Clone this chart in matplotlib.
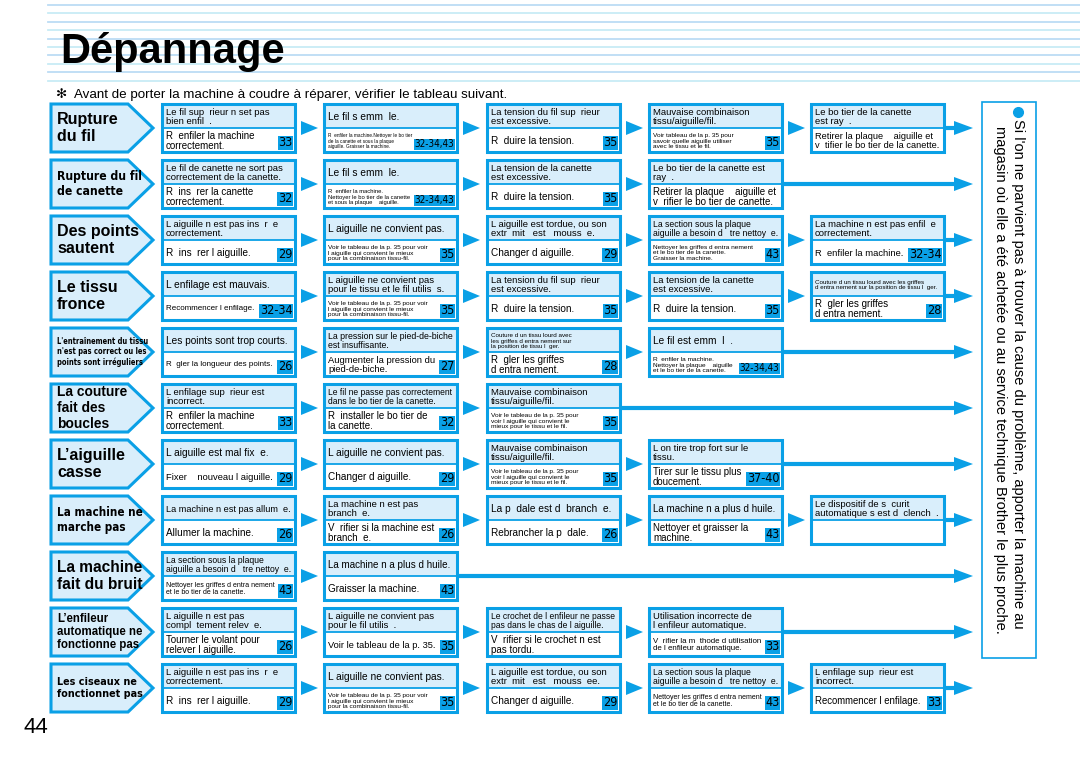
import matplotlib
matplotlib.use("Agg")
import matplotlib.pyplot as plt
from matplotlib.patches import Rectangle, Polygon
from matplotlib import font_manager
from matplotlib.font_manager import FontProperties

# Texts of the page
title = "Dépannage"
intro = "✻  Avant de porter la machine à coudre à réparer, vérifier le tableau suivant."
note_line1 = "Si l'on ne parvient pas à trouver la cause du problème, apporter la machine au"
note_line2 = "magasin où elle a été achetée ou au service technique Brother le plus proche."
page_number = "44"

problems = [
    "Rupture\ndu fil",
    "Rupture du fil\nde canette",
    "Des points\nsautent",
    "Le tissu\nfronce",
    "L'entraînement du tissu\nn'est pas correct ou les\npoints sont irréguliers",
    "La couture\nfait des\nboucles",
    "L’aiguille\ncasse",
    "La machine ne\nmarche pas",
    "La machine\nfait du bruit",
    "L’enfileur\nautomatique ne\nfonctionne pas",
    "Les ciseaux ne\nfonctionnet pas",
]

causes = [
    ["Le fil sup  rieur n set pas\nbien enfil  .", "Le fil s emm  le.",
     "La tension du fil sup  rieur\nest excessive.", "Mauvaise combinaison\ntissu/aiguille/fil.",
     "Le bo tier de la canette\nest ray  ."],
    ["Le fil de canette ne sort pas\ncorrectement de la canette.", "Le fil s emm  le.",
     "La tension de la canette\nest excessive.", "Le bo tier de la canette est\nray  ."],
    ["L aiguille n est pas ins  r  e\ncorrectement.", "L aiguille ne convient pas.",
     "L aiguille est tordue, ou son\nextr  mit   est   mouss  e.",
     "La section sous la plaque\naiguille a besoin d   tre nettoy  e.",
     "La machine n est pas enfil  e\ncorrectement."],
    ["L enfilage est mauvais.", "L aiguille ne convient pas\npour le tissu et le fil utilis  s.",
     "La tension du fil sup  rieur\nest excessive.", "La tension de la canette\nest excessive.",
     "Couture d un tissu lourd avec les griffes\nd entra nement sur la position de tissu l  ger."],
    ["Les points sont trop courts.", "La pression sur le pied-de-biche\nest insuffisante.",
     "Couture d un tissu lourd avec\nles griffes d entra nement sur\nla position de tissu l  ger.",
     "Le fil est emm  l  ."],
    ["L enfilage sup  rieur est\nincorrect.", "Le fil ne passe pas correctement\ndans le bo tier de la canette.",
     "Mauvaise combinaison\ntissu/aiguille/fil."],
    ["L aiguille est mal fix  e.", "L aiguille ne convient pas.",
     "Mauvaise combinaison\ntissu/aiguille/fil.", "L on tire trop fort sur le\ntissu."],
    ["La machine n est pas allum  e.", "La machine n est pas\nbranch  e.",
     "La p  dale est d  branch  e.", "La machine n a plus d huile.",
     "Le dispositif de s  curit  \nautomatique s est d  clench  ."],
    ["La section sous la plaque\naiguille a besoin d   tre nettoy  e.", "La machine n a plus d huile."],
    ["L aiguille n est pas\ncompl  tement relev  e.", "L aiguille ne convient pas\npour le fil utilis  .",
     "Le crochet de l enfileur ne passe\npas dans le chas de l aiguille.",
     "Utilisation incorrecte de\nl enfileur automatique."],
    ["L aiguille n est pas ins  r  e\ncorrectement.", "L aiguille ne convient pas.",
     "L aiguille est tordue, ou son\nextr  mit   est   mouss  ee.",
     "La section sous la plaque\naiguille a besoin d   tre nettoy  e.",
     "L enfilage sup  rieur est\nincorrect."],
]

remedies = [
    ["R  enfiler la machine\ncorrectement.",
     "R  enfiler la machine.Nettoyer le bo tier\nde la canette et sous la plaque\naiguille. Graisser la machine.",
     "R  duire la tension.",
     "Voir tableau de la p. 35 pour\nsavoir quelle aiguille utiliser\navec le tissu et le fil.",
     "Retirer la plaque    aiguille et\nv  tifier le bo tier de la canette."],
    ["R  ins  rer la canette\ncorrectement.",
     "R  enfiler la machine.\nNettoyer le bo tier de la canette\net sous la plaque    aiguille.",
     "R  duire la tension.",
     "Retirer la plaque    aiguille et\nv  rifier le bo tier de canette."],
    ["R  ins  rer l aiguille.",
     "Voir le tableau de la p. 35 pour voir\nl aiguille qui convient le mieux\npour la combinaison tissu-fil.",
     "Changer d aiguille.",
     "Nettoyer les griffes d entra nement\net le bo tier de la canette.\nGraisser la machine.",
     "R  enfiler la machine."],
    ["Recommencer l enfilage.",
     "Voir le tableau de la p. 35 pour voir\nl aiguille qui convient le mieux\npour la combinaison tissu-fil.",
     "R  duire la tension.", "R  duire la tension.", "R  gler les griffes\nd entra nement."],
    ["R  gler la longueur des points.", "Augmenter la pression du\npied-de-biche.",
     "R  gler les griffes\nd entra nement.",
     "R  enfiler la machine.\nNettoyer la plaque    aiguille\net le bo tier de la canette."],
    ["R  enfiler la machine\ncorrectement.", "R  installer le bo tier de\nla canette.",
     "Voir le tableau de la p. 35 pour\nvoir l aiguille qui convient le\nmieux pour le tissu et le fil."],
    ["Fixer    nouveau l aiguille.", "Changer d aiguille.",
     "Voir le tableau de la p. 35 pour\nvoir l aiguille qui convient le\nmieux pour le tissu et le fil.",
     "Tirer sur le tissu plus\ndoucement."],
    ["Allumer la machine.", "V  rifier si la machine est\nbranch  e.", "Rebrancher la p  dale.",
     "Nettoyer et graisser la\nmachine.", ""],
    ["Nettoyer les griffes d entra nement\net le bo tier de la canette.", "Graisser la machine."],
    ["Tourner le volant pour\nrelever l aiguille.", "Voir le tableau de la p. 35.",
     "V  rifier si le crochet n est\npas tordu.",
     "V  rifier la m  thode d utilisation\nde l enfileur automatique."],
    ["R  ins  rer l aiguille.",
     "Voir le tableau de la p. 35 pour voir\nl aiguille qui convient le mieux\npour la combinaison tissu-fil.",
     "Changer d aiguille.",
     "Nettoyer les griffes d entra nement\net le bo tier de la canette.",
     "Recommencer l enfilage."],
]

pages = [
    ["33", "32-34,43", "35", "35", ""],
    ["32", "32-34,43", "35", ""],
    ["29", "35", "29", "43", "32-34"],
    ["32-34", "35", "35", "35", "28"],
    ["26", "27", "28", "32-34,43"],
    ["33", "32", "35"],
    ["29", "29", "35", "37-40"],
    ["26", "26", "26", "43", ""],
    ["43", "43"],
    ["26", "35", "", "33"],
    ["29", "35", "29", "43", "33"],
]

# Layout (pixels)
BLUE = "#0aa0e6"
LIGHT = "#d9eefb"
row_top0, row_pitch, box_h = 104, 56, 48
col_left = [162, 324, 487, 649, 811]
box_w = 133
arrow_tip = 973
narrow_rows = {1, 4, 7, 10}
SANS = ["Liberation Sans", "DejaVu Sans"]


def find_font(keys, bold):
    for key in keys:
        for f in font_manager.fontManager.ttflist:
            fn = f.fname.lower().replace("-", "").replace("_", "")
            if key in fn and ("bold" in fn) == bold and "oblique" not in fn and "italic" not in fn:
                return f.fname
    return None


cond_bold = find_font(["liberationsansnarrow", "dejavusanscondensed"], True)
cond_reg = find_font(["liberationsansnarrow", "dejavusanscondensed"], False)


def props(condensed, bold, size):
    path = cond_bold if bold else cond_reg
    if condensed and path:
        return FontProperties(fname=path, size=size)
    return FontProperties(family=SANS, weight="bold" if bold else "normal", size=size)


fig = plt.figure(figsize=(10.8, 7.64), dpi=100)
ax = fig.add_axes([0, 0, 1, 1])
ax.set_xlim(0, 1080)
ax.set_ylim(764, 0)
ax.axis("off")
renderer = fig.canvas.get_renderer()


def fit_text(x, y, s, fp, max_w, max_h, **kw):
    t = ax.text(x, y, s, fontproperties=fp, **kw)
    bb = t.get_window_extent(renderer)
    scale = min(1.0, max_w / max(bb.width, 1), max_h / max(bb.height, 1))
    if scale < 1:
        t.set_fontsize(fp.get_size_in_points() * scale)
    return t


# Header stripes and title
for i in range(10):
    y = 5 + i * 8.4
    ax.plot([48, 1080], [y, y], color="#bcdcf4" if i % 2 == 0 else "#c8ecf6", lw=1.3, zorder=1)
ax.text(60, 63, title, fontsize=30, fontweight="bold", family=SANS, va="baseline", zorder=3)
ax.text(56, 98, intro, fontsize=9.6, family=SANS, va="baseline")
ax.text(24, 733, page_number, fontsize=16, family=SANS, va="baseline")

for r, label in enumerate(problems):
    top = row_top0 + r * row_pitch
    mid = top + box_h / 2
    split = top + box_h * 0.5
    # problem arrow on the left
    ax.add_patch(Polygon([(51, top), (128, top), (153, mid), (128, top + box_h), (51, top + box_h)],
                         closed=True, facecolor=LIGHT, edgecolor=BLUE, lw=2.2, zorder=2))
    fit_text(57, mid, label, props(r in narrow_rows, True, 11.5), 92 if r == 4 else 86, box_h - 6,
             va="center", ha="left", linespacing=1.15, zorder=3)

    for c, cause in enumerate(causes[r]):
        x0 = col_left[c]
        ax.add_patch(Rectangle((x0, top), box_w, split - top, facecolor=LIGHT, edgecolor="none", zorder=2))
        ax.add_patch(Rectangle((x0, split), box_w, top + box_h - split, facecolor="white",
                               edgecolor="none", zorder=2))
        ax.plot([x0, x0 + box_w], [split, split], color=BLUE, lw=1.3, zorder=4)
        ax.add_patch(Rectangle((x0, top), box_w, box_h, facecolor="none", edgecolor=BLUE, lw=2.2, zorder=5))
        fit_text(x0 + 4, (top + split) / 2 + 1, cause, props(False, False, 7.3), box_w - 9,
                 split - top - 5, va="center", ha="left", linespacing=1.05, zorder=3)
        lab_w = 0
        if pages[r][c]:
            lab = fit_text(x0 + box_w - 2.5, top + box_h - 2.5, pages[r][c], props(True, False, 9),
                           40, 14, ha="right", va="bottom", zorder=4,
                           bbox=dict(boxstyle="square,pad=0.06", facecolor=BLUE, edgecolor="none"))
            lab_w = lab.get_window_extent(renderer).width + 3
        if remedies[r][c]:
            fit_text(x0 + 4, (split + top + box_h) / 2 + 1, remedies[r][c], props(False, False, 7.2),
                     box_w - 9 - lab_w, top + box_h - split - 4,
                     va="center", ha="left", linespacing=1.05, zorder=3)
        right = x0 + box_w
        if c < len(causes[r]) - 1:
            ax.add_patch(Polygon([(right + 6, mid - 7), (right + 23, mid), (right + 6, mid + 7)],
                                 closed=True, facecolor=BLUE, edgecolor="none", zorder=3))
        else:
            ax.plot([right, arrow_tip - 16], [mid, mid], color=BLUE, lw=3, solid_capstyle="butt", zorder=3)
            ax.add_patch(Polygon([(arrow_tip - 19, mid - 7), (arrow_tip, mid), (arrow_tip - 19, mid + 7)],
                                 closed=True, facecolor=BLUE, edgecolor="none", zorder=3))

# Note box on the right
ax.add_patch(Rectangle((982, 102), 54, 556, facecolor="white", edgecolor=BLUE, lw=1.2, zorder=2))
ax.plot([1018], [112], marker="o", markersize=7, color=BLUE, zorder=3)
ax.text(1018, 119, note_line1, rotation=-90, fontsize=10.5, family=SANS, ha="center", va="top", zorder=3)
ax.text(1000, 126, note_line2, rotation=-90, fontsize=10.5, family=SANS, ha="center", va="top", zorder=3)

fig.savefig("out.png", dpi=100)
